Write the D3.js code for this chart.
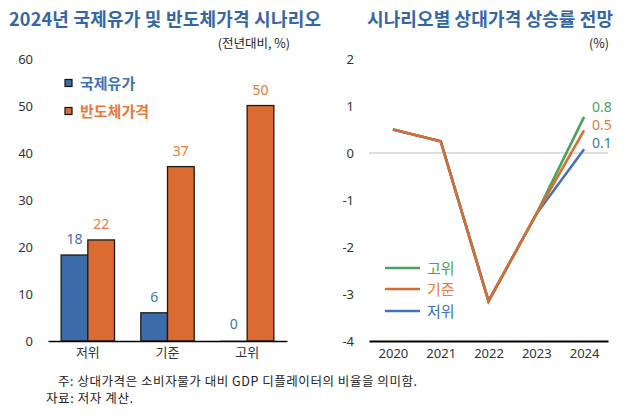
<!DOCTYPE html>
<html><head><meta charset="utf-8">
<script src="https://cdn.jsdelivr.net/npm/d3@7"></script>
<style>
html,body{margin:0;padding:0;background:#fff;}
svg{display:block;font-family:"Noto Sans CJK KR","Noto Sans",sans-serif;}
</style></head>
<body><svg id="c" width="640" height="418"></svg>
<script>
// ---- data ----
const barCategories = ["저위", "기준", "고위"];
const oilValues = [18.3, 6.0, 0.15];
const chipValues = [21.5, 37.1, 50.1];
const oilLabels = ["18", "6", "0"];
const chipLabels = ["22", "37", "50"];
const barTicks = [0, 10, 20, 30, 40, 50, 60];

const years = ["2020", "2021", "2022", "2023", "2024"];
const highValues = [0.5, 0.25, -3.15, -1.3, 0.77];
const baseValues = [0.5, 0.25, -3.15, -1.3, 0.48];
const lowValues = [0.5, 0.25, -3.15, -1.3, 0.08];
const endLabels = ["0.8", "0.5", "0.1"];
const lineTicks = [2, 1, 0, -1, -2, -3, -4];

const blue = "#3C6DAA", orange = "#DA6C31";
const blueText = "#3F72B5", orangeText = "#E8793A";
const green = "#4DA25A";
const titleColor = "#3466A6";

const svg = d3.select("#c");

// ---- titles ----
svg.append("text").attr("x", 9).attr("y", 26).attr("font-size", 18).attr("font-weight", 600)
  .attr("fill", titleColor).attr("textLength", 312).text("2024년 국제유가 및 반도체가격 시나리오");
svg.append("text").attr("x", 290).attr("y", 48).attr("text-anchor", "end").attr("font-size", 12.5)
  .attr("fill", "#222").text("(전년대비, %)");
svg.append("text").attr("x", 367).attr("y", 26).attr("font-size", 18).attr("font-weight", 600)
  .attr("fill", titleColor).attr("textLength", 246).text("시나리오별 상대가격 상승률 전망");
svg.append("text").attr("x", 609).attr("y", 48).attr("text-anchor", "end").attr("font-size", 12.5)
  .attr("fill", "#222").text("(%)");

// ---- left bar chart ----
const yL = d3.scaleLinear().domain([0, 60]).range([341, 59]);
const xL = d3.scaleBand().domain(barCategories).range([48, 287]).paddingInner(0.33).paddingOuter(0.165);
const bw = xL.bandwidth() / 2;

const gyL = svg.append("g").attr("transform", "translate(33,0)")
  .call(d3.axisLeft(yL).tickValues(barTicks).tickSize(0).tickPadding(0));
gyL.select(".domain").remove();
gyL.selectAll("text").attr("font-size", 13).attr("fill", "#333").attr("font-family", "'Noto Sans','Noto Sans CJK KR',sans-serif");

const bars = barCategories.map((c, i) => ({c, oil: oilValues[i], chip: chipValues[i], ol: oilLabels[i], cl: chipLabels[i]}));
svg.append("g").selectAll("rect").data(bars).join("rect")
  .attr("x", d => xL(d.c)).attr("y", d => yL(d.oil)).attr("width", bw)
  .attr("height", d => yL(0) - yL(d.oil)).attr("fill", d => d.oil > 0.5 ? blue : "#fff")
  .attr("stroke", d => d.oil > 0.5 ? "#1a1a1a" : "#bbb").attr("stroke-width", d => d.oil > 0.5 ? 1.3 : 0.8);
svg.append("g").selectAll("rect").data(bars).join("rect")
  .attr("x", d => xL(d.c) + bw).attr("y", d => yL(d.chip)).attr("width", bw)
  .attr("height", d => yL(0) - yL(d.chip)).attr("fill", orange).attr("stroke", "#1a1a1a").attr("stroke-width", 1.3);

svg.append("g").selectAll("text").data(bars).join("text")
  .attr("x", d => xL(d.c) + bw / 2).attr("y", d => yL(d.oil) - 11).attr("text-anchor", "middle")
  .attr("font-size", 14).attr("fill", blueText).attr("font-family", "'Noto Sans',sans-serif").text(d => d.ol);
svg.append("g").selectAll("text").data(bars).join("text")
  .attr("x", d => xL(d.c) + bw * 1.5).attr("y", d => yL(d.chip) - 11).attr("text-anchor", "middle")
  .attr("font-size", 14).attr("fill", orangeText).attr("font-family", "'Noto Sans',sans-serif").text(d => d.cl);

const gxL = svg.append("g").attr("transform", `translate(0,${yL(0)})`)
  .call(d3.axisBottom(xL).tickSize(0).tickPadding(7));
gxL.select(".domain").attr("stroke", "#000").attr("stroke-width", 1.5);
gxL.selectAll("text").attr("font-size", 13).attr("fill", "#333").attr("font-family", "'Noto Sans CJK KR',sans-serif");

// legend left
const legL = [{t: "국제유가", f: blue, c: blueText, y: 83}, {t: "반도체가격", f: orange, c: orangeText, y: 111}];
const lg = svg.append("g").selectAll("g").data(legL).join("g");
lg.append("rect").attr("x", 65).attr("y", d => d.y - 3.5).attr("width", 7).attr("height", 7)
  .attr("fill", d => d.f).attr("stroke", "#111").attr("stroke-width", 1.2);
lg.append("text").attr("x", 80).attr("y", d => d.y + 5.5).attr("font-size", 15).attr("font-weight", 600)
  .attr("fill", d => d.c).text(d => d.t);

// ---- right line chart ----
const yR = d3.scaleLinear().domain([-4, 2]).range([341, 59]);
const xR = d3.scalePoint().domain(years).range([369, 608]).padding(0.5);

const gyR = svg.append("g").attr("transform", "translate(354,0)")
  .call(d3.axisLeft(yR).tickValues(lineTicks).tickSize(0).tickPadding(0).tickFormat(d => d));
gyR.select(".domain").remove();
gyR.selectAll("text").attr("font-size", 13).attr("fill", "#333").attr("font-family", "'Noto Sans',sans-serif");

svg.append("line").attr("x1", 369).attr("x2", 608).attr("y1", yR(0)).attr("y2", yR(0))
  .attr("stroke", "#d3d3d3").attr("stroke-width", 1.5);

const gxR = svg.append("g").attr("transform", `translate(0,${yR(-4)})`)
  .call(d3.axisBottom(xR).tickSize(0).tickPadding(8));
gxR.select(".domain").attr("stroke", "#000").attr("stroke-width", 2);
gxR.selectAll("text").attr("font-size", 13).attr("fill", "#333").attr("font-family", "'Noto Sans',sans-serif");

const line = d3.line().x((d, i) => xR(years[i])).y(d => yR(d));
const series = [
  {name: "고위", vals: highValues, color: green, lab: endLabels[0], ly: 107},
  {name: "저위", vals: lowValues, color: "#4472B6", lab: endLabels[2], ly: 143},
  {name: "기준", vals: baseValues, color: orange, lab: endLabels[1], ly: 125}
];
svg.append("g").selectAll("path").data(series).join("path")
  .attr("d", d => line(d.vals)).attr("fill", "none").attr("stroke", d => d.color)
  .attr("stroke-width", 2.6).attr("stroke-linejoin", "miter");

const labColors = {"고위": green, "기준": orangeText, "저위": blueText};
svg.append("g").selectAll("text").data(series).join("text")
  .attr("x", xR("2024") + 8).attr("y", d => d.ly + 5).attr("font-size", 14)
  .attr("fill", d => labColors[d.name]).attr("font-family", "'Noto Sans',sans-serif").text(d => d.lab);

// legend right
const legR = [{t: "고위", c: green, tc: green, y: 268}, {t: "기준", c: orange, tc: orangeText, y: 289}, {t: "저위", c: "#4472B6", tc: blueText, y: 311}];
const lr = svg.append("g").selectAll("g").data(legR).join("g");
lr.append("line").attr("x1", 385).attr("x2", 420).attr("y1", d => d.y).attr("y2", d => d.y)
  .attr("stroke", d => d.c).attr("stroke-width", 2.6);
lr.append("text").attr("x", 427).attr("y", d => d.y + 5.5).attr("font-size", 15)
  .attr("fill", d => d.tc).text(d => d.t);

// ---- footnotes ----
svg.append("text").attr("x", 58).attr("y", 386).attr("font-size", 12.5).attr("fill", "#222")
  .attr("textLength", 359).attr("lengthAdjust", "spacing")
  .text("주: 상대가격은 소비자물가 대비 GDP 디플레이터의 비율을 의미함.");
svg.append("text").attr("x", 46).attr("y", 403).attr("font-size", 12.5).attr("fill", "#222")
  .attr("textLength", 87).attr("lengthAdjust", "spacing").text("자료: 저자 계산.");
</script></body></html>
